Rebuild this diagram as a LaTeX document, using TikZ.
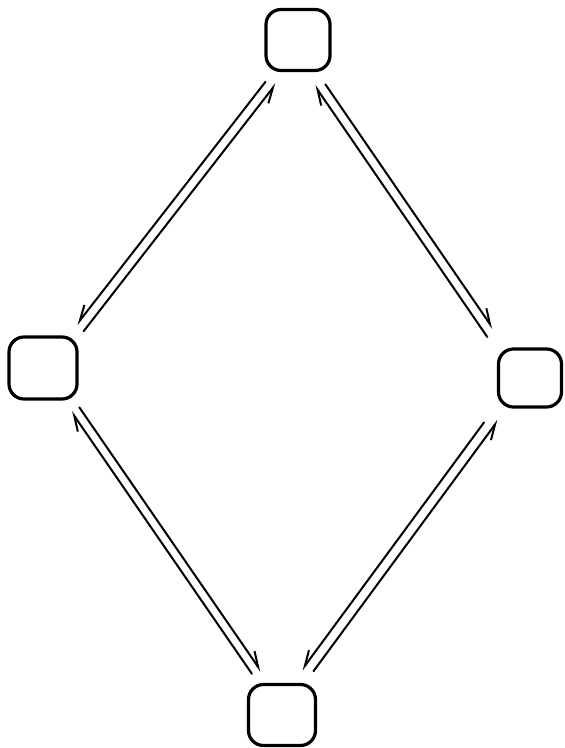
\documentclass[tikz,border=0pt]{standalone}
\usetikzlibrary{arrows.meta,calc}
\tikzset{
  box/.style={draw, line width=3.2pt, rounded corners=15pt, inner sep=0pt},
  conn/.style={line width=2pt, line cap=round},
  endR/.style={-{Straight Barb[harpoon,swap,length=15pt,width=12pt]}},
  endL/.style={-{Straight Barb[harpoon,length=15pt,width=12pt]}},
  startR/.style={{Straight Barb[harpoon,swap,length=15pt,width=12pt]}-},
  startL/.style={{Straight Barb[harpoon,length=15pt,width=12pt]}-},
}
\newcommand\connline[6]{%
  \draw[conn,#6,shorten <=#4,shorten >=#5] ($(#1)!#3!90:(#2)$) -- ($(#2)!#3!-90:(#1)$);}
\begin{document}
\begin{tikzpicture}[x=1pt,y=1pt]
\useasboundingbox (0,0) rectangle (565,748);
\node[box, minimum width=64pt, minimum height=61pt] (T) at (298,708) {};
\node[box, minimum width=68pt, minimum height=62pt] (L) at (43,380) {};
\node[box, minimum width=63pt, minimum height=58pt] (R) at (530,370) {};
\node[box, minimum width=67pt, minimum height=61pt] (B) at (282,33) {};
% top - left
\connline{T}{L}{0pt}{53pt}{55pt}{endR}
\connline{T}{L}{9.5pt}{48pt}{54pt}{startR}
% top - right
\connline{T}{R}{-12pt}{47pt}{58pt}{startL}
\connline{T}{R}{-2.5pt}{52pt}{62pt}{endL}
% left - bottom
\connline{L}{B}{-1.4pt}{52pt}{51pt}{startL}
\connline{L}{B}{7.6pt}{53pt}{48pt}{endL}
% right - bottom
\connline{R}{B}{-0.6pt}{53pt}{54pt}{startR}
\connline{R}{B}{-10.7pt}{63pt}{48pt}{endR}
\end{tikzpicture}
\end{document}
